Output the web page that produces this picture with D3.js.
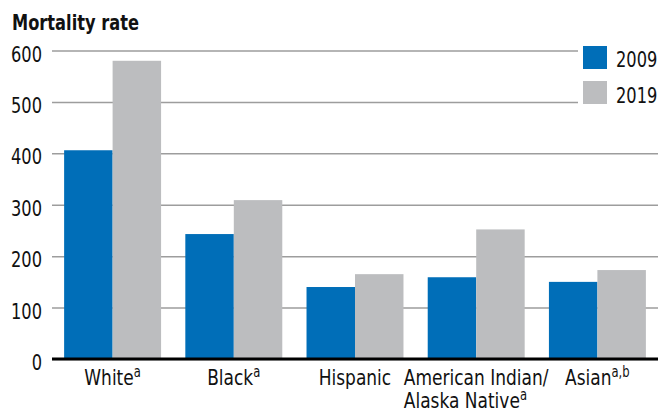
<!DOCTYPE html>
<html>
<head>
<meta charset="utf-8">
<script src="https://cdn.jsdelivr.net/npm/d3@7"></script>
<style>
  body { margin: 0; background: #fff; }
  svg text { font-family: "DejaVu Sans", sans-serif; font-stretch: condensed; fill: #111; }
</style>
</head>
<body>
<div class="chart"></div>
<script>
(function() {
  'use strict';

  const WIDTH = 670;
  const HEIGHT = 411;
  // Horizontal squeeze to mimic the narrow type of the original
  const K = 0.86;

  // Data
  const GROUPS = ['White', 'Black', 'Hispanic', 'American Indian/Alaska Native', 'Asian'];
  const LABELS = [
    { lines: ['White'], sup: 'a' },
    { lines: ['Black'], sup: 'a' },
    { lines: ['Hispanic'], sup: '' },
    { lines: ['American Indian/', 'Alaska Native'], sup: 'a' },
    { lines: ['Asian'], sup: 'a,b' }
  ];
  const YEARS = ['2009', '2019'];
  const RATE_2009 = [406, 243, 140, 159, 150];
  const RATE_2019 = [580, 309, 165, 252, 173];
  const Y_TICKS = [0, 100, 200, 300, 400, 500, 600];
  const COLORS = ['#006EB8', '#BCBDBF'];

  const left = 52, right = 658, top = 50.5, bottom = 359;

  function place(x, y) {
    return 'translate(' + x + ',' + y + ') scale(' + K + ',1)';
  }

  const svg = d3.select('.chart')
    .append('svg')
    .attr('width', WIDTH)
    .attr('height', HEIGHT);

  const x = d3.scaleBand()
    .domain(GROUPS)
    .range([left, right])
    .paddingInner(0.2)
    .paddingOuter(0.1);

  const xs = d3.scaleBand()
    .domain(YEARS)
    .range([0, x.bandwidth()]);

  const y = d3.scaleLinear()
    .domain([0, 600])
    .range([bottom, top]);

  // Gridlines + tick labels
  const yAxis = svg.append('g')
    .attr('transform', 'translate(' + left + ',0)')
    .call(d3.axisLeft(y).tickValues(Y_TICKS).tickSize(-(right - left)).tickPadding(10));
  yAxis.select('.domain').remove();
  yAxis.selectAll('.tick line')
    .attr('stroke', '#9d9d9d')
    .attr('stroke-width', 1.5);
  yAxis.selectAll('.tick text')
    .attr('x', 0)
    .attr('transform', place(-10, 0))
    .attr('font-size', 21)
    .attr('dy', '0.5em')
    .attr('fill', '#111');

  // Bars
  const series = [RATE_2009, RATE_2019];
  for (let s = 0; s < series.length; ++s) {
    svg.append('g')
      .attr('fill', COLORS[s])
      .selectAll('rect')
      .data(GROUPS)
      .join('rect')
      .attr('x', function(d) { return x(d) + xs(YEARS[s]); })
      .attr('width', xs.bandwidth())
      .attr('y', function(d, i) { return y(series[s][i]); })
      .attr('height', function(d, i) { return y(0) - y(series[s][i]); });
  }

  // Baseline
  svg.append('line')
    .attr('x1', left).attr('x2', right)
    .attr('y1', y(0)).attr('y2', y(0))
    .attr('stroke', '#000')
    .attr('stroke-width', 3);

  // Category labels
  LABELS.forEach(function(lab, i) {
    const cx = x(GROUPS[i]) + x.bandwidth() / 2;
    const g = svg.append('g');
    const texts = lab.lines.map(function(line, j) {
      const t = g.append('text')
        .attr('font-size', 22);
      t.append('tspan').text(line);
      if (j === lab.lines.length - 1 && lab.sup) {
        t.append('tspan')
          .attr('font-size', 15)
          .attr('dy', -8)
          .text(lab.sup);
      }
      return t;
    });
    const w = K * d3.max(texts, function(t) { return t.node().getComputedTextLength(); });
    texts.forEach(function(t, j) { t.attr('transform', place(cx - w / 2, 385 + j * 22.5)); });
  });

  // Title
  svg.append('text')
    .attr('transform', place(12, 30))
    .attr('font-size', 21)
    .attr('font-weight', 'bold')
    .text('Mortality rate');

  // Legend
  const legend = svg.append('g');
  legend.append('rect')
    .attr('x', 578).attr('y', 38)
    .attr('width', 92).attr('height', 75)
    .attr('fill', '#fff');
  YEARS.forEach(function(yr, i) {
    legend.append('rect')
      .attr('x', 583).attr('y', 46 + i * 35)
      .attr('width', 24).attr('height', 23)
      .attr('fill', COLORS[i]);
    legend.append('text')
      .attr('transform', place(616, 66.5 + i * 36))
      .attr('font-size', 21)
      .text(yr);
  });
})();
</script>
</body>
</html>
